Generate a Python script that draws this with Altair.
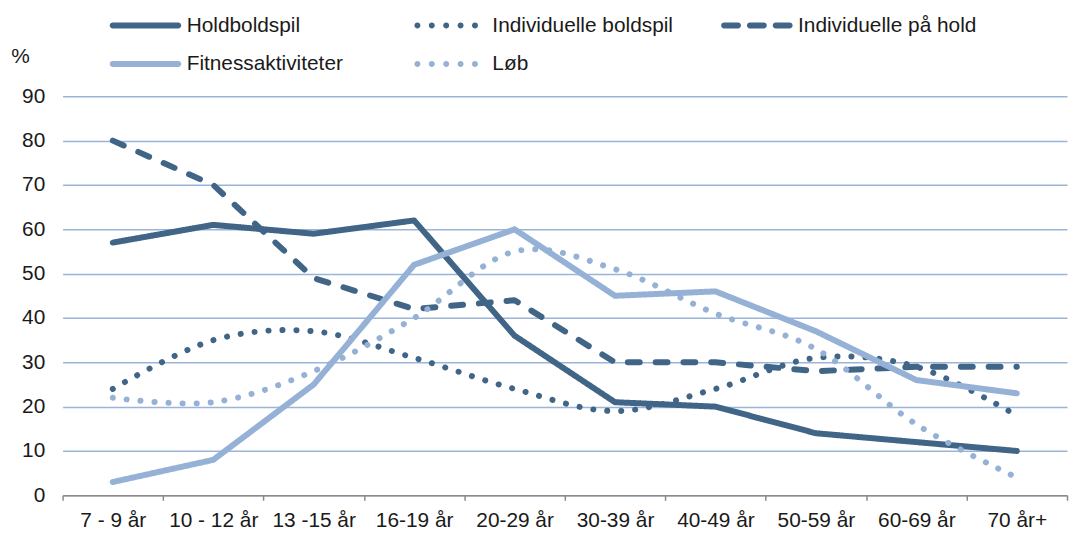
import altair as alt
import pandas as pd

categories = ["7 - 9 år", "10 - 12 år", "13 -15 år", "16-19 år", "20-29 år",
              "30-39 år", "40-49 år", "50-59 år", "60-69 år", "70 år+"]
series_names = ["Holdboldspil", "Individuelle boldspil", "Individuelle på hold",
                "Fitnessaktiviteter", "Løb"]
holdboldspil = [57, 61, 59, 62, 36, 21, 20, 14, 12, 10]
individuelle_boldspil = [24, 35, 37, 31, 24, 19, 24, 31, 29, 18]
individuelle_paa_hold = [80, 70, 49, 42, 44, 30, 30, 28, 29, 29]
fitnessaktiviteter = [3, 8, 25, 52, 60, 45, 46, 37, 26, 23]
loeb = [22, 21, 28, 40, 55, 51, 41, 33, 16, 4]
y_ticks = [0, 10, 20, 30, 40, 50, 60, 70, 80, 90]

all_values = [holdboldspil, individuelle_boldspil, individuelle_paa_hold,
              fitnessaktiviteter, loeb]
rows = []
for name, vals in zip(series_names, all_values):
    for c, v in zip(categories, vals):
        rows.append({"Alder": c, "Serie": name, "Procent": v})
df = pd.DataFrame(rows)

DARK = "#416587"
LIGHT = "#95b1d5"
GRID = "#9ab5d8"
TEXT = "#1a1a1a"
FONT = "Liberation Sans"
FS = 21
LW = 6


def capsule(x0, x1, r=0.3):
    return (f"M{x0 + r},{-r} H{x1 - r} A{r},{r} 0 0 1 {x1 - r},{r} "
            f"H{x0 + r} A{r},{r} 0 0 1 {x0 + r},{-r} Z")


def dots(centers, r=0.3):
    return " ".join(f"M{c - r},0 A{r},{r} 0 1 0 {c + r},0 A{r},{r} 0 1 0 {c - r},0 Z"
                    for c in centers)


solid_path = capsule(-3.6, 3.6)
dash_path = " ".join([capsule(-3.6, -1.6), capsule(-1.0, 1.0), capsule(1.6, 3.6)])
dot_path = dots([-3.4, -1.95, -0.5, 0.95, 2.4])

color_scale = alt.Scale(domain=series_names, range=[DARK, DARK, DARK, LIGHT, LIGHT])
dash_scale = alt.Scale(domain=series_names,
                       range=[[1, 0], [0.1, 14], [12, 16], [1, 0], [0.1, 14]])
shape_scale = alt.Scale(domain=series_names,
                        range=[solid_path, dot_path, dash_path, solid_path, dot_path])

x_enc = alt.X(
    "Alder:N", sort=categories, bandPosition=0.5,
    scale=alt.Scale(type="band", paddingInner=0, paddingOuter=0),
    axis=alt.Axis(title=None, labelAngle=0, tickBand="extent", domainColor="#8a8a8a",
                  domainWidth=1.5, tickColor="#8a8a8a", tickWidth=1.5, tickSize=5,
                  labelPadding=9, labelFont=FONT, labelFontSize=FS, labelColor=TEXT,
                  grid=False),
)
y_enc = alt.Y(
    "Procent:Q", scale=alt.Scale(domain=[0, 90], nice=False),
    axis=alt.Axis(values=y_ticks, title="%", titleAngle=0, titleX=-43, titleY=-40,
                  titleAlign="center", titleBaseline="middle", titleFont=FONT,
                  titleFontSize=FS, titleFontWeight="normal", titleColor=TEXT,
                  grid=True, gridColor=GRID, gridWidth=1.5, domain=False, ticks=False,
                  tickSize=0, labelPadding=18, labelFont=FONT, labelFontSize=FS,
                  labelColor=TEXT),
)

base = alt.Chart(df)
smooth = {"Individuelle boldspil", "Løb"}
layers = []
for name in series_names:
    if name in smooth:
        mk = base.mark_line(interpolate="cardinal", tension=0, strokeWidth=LW,
                            strokeCap="round", strokeJoin="round")
    else:
        mk = base.mark_line(strokeWidth=LW, strokeCap="round", strokeJoin="round")
    layers.append(
        mk.transform_filter(alt.datum.Serie == name).encode(
            x=x_enc, y=y_enc,
            color=alt.Color("Serie:N", scale=color_scale, legend=None),
            strokeDash=alt.StrokeDash("Serie:N", scale=dash_scale, legend=None),
        )
    )

legend = alt.Legend(orient="none", legendX=47, legendY=-82, columns=3, gridAlign="all",
                    direction="horizontal",
                    title=None, symbolSize=400, symbolOffset=26, labelOffset=31,
                    columnPadding=46, rowPadding=17, padding=0, labelFont=FONT,
                    labelFontSize=FS, labelColor=TEXT, labelLimit=0, symbolOpacity=1,
                    symbolStrokeWidth=0)

legend_layer = base.mark_point(filled=True, opacity=0).encode(
    x=x_enc, y=y_enc,
    color=alt.Color("Serie:N", scale=color_scale, legend=legend),
    shape=alt.Shape("Serie:N", scale=shape_scale, legend=legend),
)

chart = alt.layer(*layers, legend_layer).resolve_legend(
    color="independent", shape="independent", strokeDash="independent"
).properties(
    width=1012, height=402,
    autosize=alt.AutoSizeParams(type="none"),
    padding={"left": 55, "top": 87, "right": 2, "bottom": 36},
).configure_view(stroke=None)

chart.save("out.html", embed_options={"renderer": "svg", "actions": False})
